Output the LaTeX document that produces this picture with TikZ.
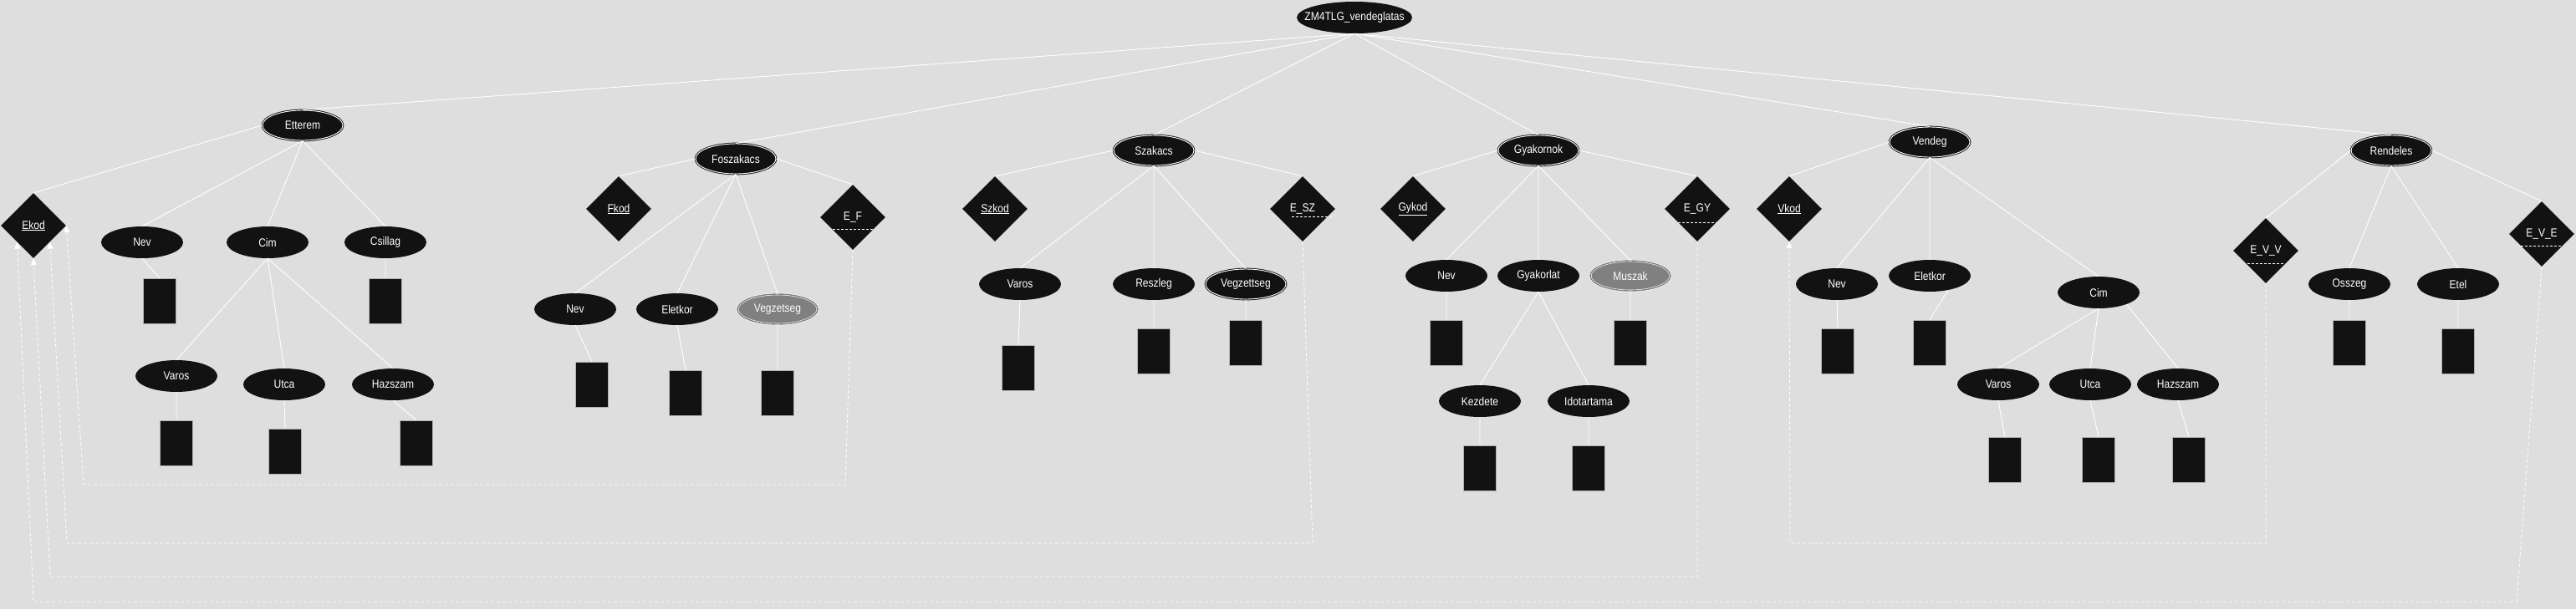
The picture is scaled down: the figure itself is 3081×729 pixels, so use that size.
\documentclass[tikz,border=0pt]{standalone}
\usepackage{fontspec}
\setmainfont{Liberation Sans}[FakeStretch=0.86]
\usetikzlibrary{shapes.geometric, arrows.meta}
\definecolor{bg}{HTML}{DEDEDE}
\definecolor{blk}{HTML}{121212}
\definecolor{gry}{HTML}{808080}

\begin{document}
\begin{tikzpicture}[x=1pt, y=-1pt,
    every node/.style={text=white, font=\fontsize{14}{16}\selectfont, inner sep=0pt},
    attrib/.style={ellipse, fill=blk, minimum width=98pt, minimum height=38pt},
    entity/.style={attrib, draw=blk, double=white, double distance=0.9pt, line width=0.9pt, minimum width=96pt, minimum height=36pt},
    multival/.style={attrib, fill=gry, draw=white, double=gry, double distance=1.4pt, line width=0.6pt, minimum width=96pt, minimum height=36pt},
    keyrel/.style={diamond, fill=blk, minimum width=78pt, minimum height=78pt},
    valbox/.style={rectangle, fill=blk, draw=white!70!black, line width=0.6pt, minimum width=39pt, minimum height=54pt},
    conn/.style={draw=white, line width=0.9pt},
    fkarrow/.style={draw=white, line width=0.8pt, dash pattern=on 4pt off 3pt, -{Triangle[width=7pt,length=8pt]}},
    pkline/.style={draw=white, line width=0.8pt, dash pattern=on 3pt off 2pt}]
            \fill[bg] (0,0) rectangle (3081,729);
            \useasboundingbox (0,0) rectangle (3081,729);

            \draw (1620,21) node[attrib, inner xsep=-11pt, minimum width=138pt] (zm) {ZM4TLG\_vendeglatas};

            \draw (362,150) node[entity] (etterem) {Etterem};
            \draw (40,270) node[keyrel] (ekod) {\underline{Ekod}};
            \draw (170,290) node[attrib] (enev) {Nev};
            \draw (320,290) node[attrib] (ecim) {Cim};
            \draw (461,290) node[attrib] (ecsil) {Csillag};
            \draw (211,450) node[attrib] (evaros) {Varos};
            \draw (340,460) node[attrib] (eutca) {Utca};
            \draw (470,460) node[attrib] (ehsz) {Hazszam};
            \draw (191,360) node[valbox] (enevd) {};
            \draw (461,360) node[valbox] (ecsild) {};
            \draw (211,530) node[valbox] (evarosd) {};
            \draw (341,540) node[valbox] (eutcad) {};
            \draw (498,530) node[valbox] (ehszd) {};

            \draw (880,190) node[entity] (fosz) {Foszakacs};
            \draw (740,250) node[keyrel] (fkod) {\underline{Fkod}};
            \draw (1020,260) node[keyrel] (ef) {E\_F};
            \draw (688,370) node[attrib] (fnev) {Nev};
            \draw (810,370) node[attrib] (felet) {Eletkor};
            \draw (930,370) node[multival] (fvegz) {Vegzetseg};
            \draw (708,460) node[valbox] (fnevd) {};
            \draw (820,470) node[valbox] (feletd) {};
            \draw (930,470) node[valbox] (fvegzd) {};

            \draw (1380,180) node[entity] (szak) {Szakacs};
            \draw (1190,250) node[keyrel] (szkod) {\underline{Szkod}};
            \draw (1558,250) node[keyrel] (esz) {E\_SZ};
            \draw (1220,340) node[attrib] (szvaros) {Varos};
            \draw (1380,340) node[attrib] (szresz) {Reszleg};
            \draw (1490,340) node[entity] (szvegz) {Vegzettseg};
            \draw (1218,440) node[valbox] (szvarosd) {};
            \draw (1380,420) node[valbox] (szreszd) {};
            \draw (1490,410) node[valbox] (szvegzd) {};

            \draw (1840,180) node[entity] (gyak) {Gyakornok};
            \draw (1690,250) node[keyrel] (gykod) {\underline{Gykod}};
            \draw (2030,250) node[keyrel] (egy) {E\_GY};
            \draw (1730,330) node[attrib] (gynev) {Nev};
            \draw (1840,330) node[attrib] (gyakorlat) {Gyakorlat};
            \draw (1950,330) node[multival] (gymusz) {Muszak};
            \draw (1770,480) node[attrib] (gykezd) {Kezdete};
            \draw (1900,480) node[attrib] (gyido) {Idotartama};
            \draw (1730,410) node[valbox] (gynevd) {};
            \draw (1950,410) node[valbox] (gymuszd) {};
            \draw (1770,560) node[valbox] (gykezdd) {};
            \draw (1900,560) node[valbox] (gyidod) {};

            \draw (2308,170) node[entity] (vend) {Vendeg};
            \draw (2140,250) node[keyrel] (vkod) {\underline{Vkod}};
            \draw (2197,340) node[attrib] (vnev) {Nev};
            \draw (2308,330) node[attrib] (velet) {Eletkor};
            \draw (2510,350) node[attrib] (vcim) {Cim};
            \draw (2390,460) node[attrib] (vvaros) {Varos};
            \draw (2500,460) node[attrib] (vutca) {Utca};
            \draw (2605,460) node[attrib] (vhsz) {Hazszam};
            \draw (2198,420) node[valbox] (vnevd) {};
            \draw (2308,410) node[valbox] (veletd) {};
            \draw (2398,550) node[valbox] (vvarosd) {};
            \draw (2510,550) node[valbox] (vutcad) {};
            \draw (2618,550) node[valbox] (vhszd) {};

            \draw (2860,180) node[entity] (rend) {Rendeles};
            \draw (2710,300) node[keyrel] (evv) {E\_V\_V};
            \draw (3040,280) node[keyrel] (eve) {E\_V\_E};
            \draw (2810,340) node[attrib] (rossz) {Osszeg};
            \draw (2940,340) node[attrib] (retel) {Etel};
            \draw (2810,410) node[valbox] (rosszd) {};
            \draw (2940,420) node[valbox] (reteld) {};

            \draw[conn] (zm.south) -- (etterem.north)
                  (zm.south) -- (fosz.north)
                  (zm.south) -- (szak.north)
                  (zm.south) -- (gyak.north)
                  (zm.south) -- (vend.north)
                  (zm.south) -- (rend.north);
            \draw[conn] (etterem.west) -- (ekod.north)
                  (etterem.south) -- (enev.north)
                  (etterem.south) -- (ecim.north)
                  (etterem.south) -- (ecsil.north)
                  (ecim.south) -- (evaros.north)
                  (ecim.south) -- (eutca.north)
                  (ecim.south) -- (ehsz.north)
                  (enev.south) -- (enevd.north)
                  (ecsil.south) -- (ecsild.north)
                  (evaros.south) -- (evarosd.north)
                  (eutca.south) -- (eutcad.north)
                  (ehsz.south) -- (ehszd.north);
            \draw[conn] (fosz.west) -- (fkod.north)
                  (fosz.east) -- (ef.north)
                  (fosz.south) -- (fnev.north)
                  (fosz.south) -- (felet.north)
                  (fosz.south) -- (fvegz.north)
                  (fnev.south) -- (fnevd.north)
                  (felet.south) -- (feletd.north)
                  (fvegz.south) -- (fvegzd.north);
            \draw[conn] (szak.west) -- (szkod.north)
                  (szak.east) -- (esz.north)
                  (szak.south) -- (szvaros.north)
                  (szak.south) -- (szresz.north)
                  (szak.south) -- (szvegz.north)
                  (szvaros.south) -- (szvarosd.north)
                  (szresz.south) -- (szreszd.north)
                  (szvegz.south) -- (szvegzd.north);
            \draw[conn] (gyak.west) -- (gykod.north)
                  (gyak.east) -- (egy.north)
                  (gyak.south) -- (gynev.north)
                  (gyak.south) -- (gyakorlat.north)
                  (gyak.south) -- (gymusz.north)
                  (gyakorlat.south) -- (gykezd.north)
                  (gyakorlat.south) -- (gyido.north)
                  (gynev.south) -- (gynevd.north)
                  (gymusz.south) -- (gymuszd.north)
                  (gykezd.south) -- (gykezdd.north)
                  (gyido.south) -- (gyidod.north);
            \draw[conn] (vend.west) -- (vkod.north)
                  (vend.south) -- (vnev.north)
                  (vend.south) -- (velet.north)
                  (vend.south) -- (vcim.north)
                  (vcim.south) -- (vvaros.north)
                  (vcim.south) -- (vutca.north)
                  (vcim.-23) -- (vhsz.north)
                  (vnev.south) -- (vnevd.north)
                  (velet.-38) -- (veletd.north)
                  (vvaros.south) -- (vvarosd.north)
                  (vutca.south) -- (vutcad.north)
                  (vhsz.south) -- (vhszd.north);
            \draw[conn] (rend.west) -- (evv.north)
                  (rend.east) -- (eve.north)
                  (rend.south) -- (rossz.north)
                  (rend.south) -- (retel.north)
                  (rossz.south) -- (rosszd.north)
                  (retel.south) -- (reteld.north);

            \draw[pkline] (ef.center) ++(-24,14) -- ++(48,0);
            \draw[pkline] (esz.center) ++(-13,9) -- ++(51,0);
            \draw[pkline] (egy.center) ++(-23,16) -- ++(46,0);
            \draw[pkline] (evv.center) ++(-22,15) -- ++(45,0);
            \draw[pkline] (eve.center) ++(-25,14) -- ++(50,0);

            \draw[fkarrow] (ef.south) -- (1011,580) -- (100,580) -- (ekod.east);
            \draw[fkarrow] (esz.south) -- (1570,650) -- (80,650) -- (ekod.south east);
            \draw[fkarrow] (egy.south) -- (2030,690) -- (60,690) -- (ekod.south);
            \draw[fkarrow] (eve.south) -- (3010,720) -- (40,720) -- (ekod.south west);
            \draw[fkarrow] (evv.south) -- (2710,650) -- (2141,650) -- (vkod.south);
\end{tikzpicture}
\end{document}
